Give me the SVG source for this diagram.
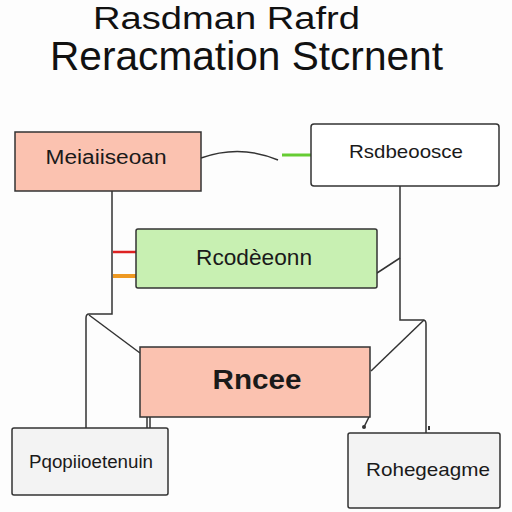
<svg xmlns="http://www.w3.org/2000/svg" width="512" height="512" viewBox="0 0 512 512">
<style>
.title{font-family:"Liberation Sans",Arial,sans-serif;fill:#111}
.lbl{font-family:"Liberation Sans",Arial,sans-serif;fill:#1a1a1a;text-anchor:middle;dominant-baseline:middle}
.box{stroke:#333;stroke-width:1.5}
.ln{fill:none;stroke:#333;stroke-width:1.5}
</style>
<rect width="512" height="512" fill="#fdfdfd"/>
<text class="title" x="93" y="29" font-size="31" textLength="267" lengthAdjust="spacingAndGlyphs">Rasdman Rafrd</text>
<text class="title" x="50" y="70" font-size="40" textLength="393" lengthAdjust="spacingAndGlyphs">Reracmation Stcrnent</text>
<g id="connectors">
<path class="ln" d="M201,158 Q240,144 278,160"/>
<line x1="282" y1="155" x2="311" y2="155" stroke="#66cc33" stroke-width="3"/>
<line x1="113" y1="252" x2="136" y2="252" stroke="#dd2222" stroke-width="2.5"/>
<line x1="113" y1="276" x2="136" y2="276" stroke="#ee9922" stroke-width="4"/>
<path class="ln" d="M112,191 V314 H89 Q86,314 86,318 V428"/>
<line class="ln" x1="89" y1="315" x2="140" y2="353"/>
<path class="ln" d="M400,186 V320 H423 Q426,320 426,324 V433"/>
<line class="ln" x1="424" y1="320" x2="371" y2="371"/>
<line class="ln" x1="377" y1="273" x2="400" y2="258"/>
<line class="ln" x1="147" y1="417" x2="147" y2="428"/>
<line class="ln" x1="150" y1="417" x2="150" y2="428"/>
<line class="ln" x1="369" y1="417" x2="364" y2="427"/>
<circle cx="364" cy="427" r="2" fill="#333"/>
<rect x="428" y="426" width="2" height="4" fill="#333"/>
</g>
<g id="n1"><rect class="box" x="15" y="132" width="186" height="59" fill="#fbc2b0"/><text class="lbl" x="106" y="159" font-size="20" textLength="121" lengthAdjust="spacingAndGlyphs">Meiaiiseoan</text></g>
<g id="n2"><rect class="box" x="311" y="124" width="188" height="62" rx="3" fill="#ffffff"/><text class="lbl" x="406" y="153" font-size="19" textLength="114" lengthAdjust="spacingAndGlyphs">Rsdbeoosce</text></g>
<g id="n3"><rect class="box" x="136" y="229" width="241" height="59" rx="2" fill="#c8f0b2"/><text class="lbl" x="254" y="259" font-size="22" textLength="116" lengthAdjust="spacingAndGlyphs">Rcodèeonn</text></g>
<g id="n4"><rect class="box" x="140" y="347" width="230" height="70" fill="#fbc2b0"/><text class="lbl" x="257" y="382" font-size="27" font-weight="bold" textLength="89" lengthAdjust="spacingAndGlyphs">Rncee</text></g>
<g id="n5"><rect class="box" x="12" y="428" width="156" height="67" rx="2" fill="#f3f3f3"/><text class="lbl" x="91" y="463" font-size="18" textLength="124" lengthAdjust="spacingAndGlyphs">Pqopiioetenuin</text></g>
<g id="n6"><rect class="box" x="348" y="433" width="152" height="75" rx="2" fill="#f3f3f3"/><text class="lbl" x="428" y="471" font-size="19" textLength="124" lengthAdjust="spacingAndGlyphs">Rohegeagme</text></g>
</svg>
